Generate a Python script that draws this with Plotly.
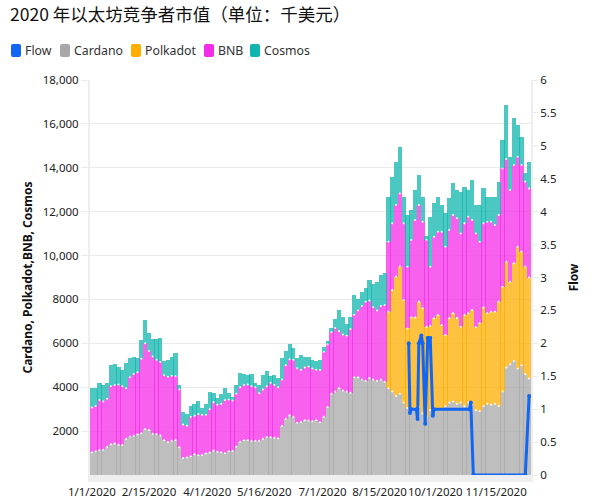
import numpy as np
import pandas as pd
import plotly.graph_objects as go

# readings, one value per 3 days from 1/1/2020
cardano = [1030, 1080, 1140, 1150, 1290, 1400, 1440, 1380, 1380, 1650,
           1750, 1790, 1850, 1900, 2100, 2050, 1880, 1870, 1800, 1580,
           1500, 1560, 1600, 1270, 770, 800, 860, 950, 900, 920,
           980, 1030, 1120, 1060, 1040, 990, 1080, 1100, 1300, 1520,
           1580, 1600, 1560, 1560, 1560, 1650, 1730, 1720, 1700, 1680,
           2250, 2560, 2720, 2650, 2380, 2420, 2500, 2480, 2450, 2500,
           2400, 2650, 3100, 3700, 3800, 3950, 3850, 3800, 3750, 4450,
           4450, 4350, 4300, 4430, 4350, 4300, 4350, 4250, 3950, 3800,
           3600, 3700, 3300, 3050, 2900, 3050, 3100, 2800, 2650, 2950,
           3050, 3000, 3000, 3150, 3300, 3350, 3250, 3300, 3150, 3300,
           3200, 2950, 2900, 3150, 3250, 3200, 3250, 3150, 3800, 4900,
           5050, 5200, 4850, 5000, 4600, 4400]
polkadot = [0] * 78 + [
    3490, 4630, 5440, 5800, 4670, 3630, 4280, 4130, 4800, 4800,
    4110, 3850, 4090, 4290, 3840, 3230, 3840, 4020, 3900, 3460,
    4140, 4070, 4320, 3780, 4010, 4490, 4120, 4240, 4190, 4750,
    4780, 4820, 3760, 4450, 5550, 5180, 4900, 4600]
bnb = [2050, 2070, 2280, 2200, 2190, 2650, 2660, 2740, 2670, 2300,
       2700, 2810, 2830, 3400, 3900, 3600, 3520, 3380, 3350, 2970,
       2980, 2960, 2900, 2630, 1530, 1450, 1790, 1750, 1880, 1810,
       1770, 1970, 2200, 2140, 2210, 2430, 2360, 2300, 2400, 2480,
       2520, 2520, 2490, 2440, 2160, 2250, 2320, 2480, 2400, 2320,
       2100, 2440, 2550, 2600, 2480, 2360, 2400, 2470, 2400, 2300,
       2380, 2950, 2850, 2800, 2900, 2600, 2550, 2550, 2900, 2850,
       3050, 3350, 3600, 3520, 3300, 3200, 3350, 3500, 3190, 3040,
       3260, 3330, 3500, 2810, 3530, 4440, 4400, 3940, 3950, 2690,
       3720, 3800, 4250, 4020, 4020, 4480, 4550, 4250, 4180, 4400,
       4100, 4280, 3720, 3830, 4170, 4100, 3950, 3950, 5390, 4680,
       4180, 4480, 4100, 3950, 3870, 4060]
cosmos = [870, 830, 760, 750, 720, 950, 950, 780, 750, 1150,
          900, 800, 670, 850, 1050, 800, 800, 950, 1100, 650,
          770, 880, 1050, 200, 550, 550, 500, 550, 570, 330,
          500, 800, 430, 300, 450, 530, 310, 150, 400, 650,
          520, 430, 530, 200, 380, 650, 700, 300, 450, 400,
          1000, 650, 680, 550, 490, 670, 500, 450, 400, 400,
          470, 250, 150, 200, 400, 950, 800, 550, 550, 900,
          500, 650, 600, 950, 1050, 1300, 1400, 1450, 2050, 2120,
          1980, 2130, 1210, 2360, 1370, 1370, 1370, 1140, 200, 2280,
          1520, 1590, 1210, 1520, 1450, 1440, 1290, 1900, 1670, 1220,
          1820, 1290, 1670, 1590, 1140, 1140, 1290, 1520, 1300, 2460,
          1510, 2120, 1450, 1290, 380, 1220]

flow_dates = ["2020-09-07", "2020-09-08", "2020-09-09", "2020-09-13", "2020-09-14",
              "2020-09-15", "2020-09-17", "2020-09-18", "2020-09-20", "2020-09-22",
              "2020-09-24", "2020-09-26", "2020-09-27", "2020-10-25", "2020-10-26",
              "2020-10-28", "2020-12-08", "2020-12-11"]
flow = [2.0, 0.94, 1.0, 1.0, 0.85, 2.0, 2.12, 2.0, 0.78, 2.08,
        2.08, 0.9, 1.0, 1.0, 1.1, 0, 0, 1.2]

# the source's labels sit every 45 rows, so 10/1 lands a few days early on a true date axis
tick_dates = ["2020-01-01", "2020-02-15", "2020-04-01", "2020-05-16",
              "2020-07-01", "2020-08-15", "2020-09-28", "2020-11-15"]
tick_labels = ["1/1/2020", "2/15/2020", "4/1/2020", "5/16/2020",
               "7/1/2020", "8/15/2020", "10/1/2020", "11/15/2020"]
left_vals = [2000, 4000, 6000, 8000, 10000, 12000, 14000, 16000, 18000]
left_labels = ["2000", "4000", "6000", "8000", "10,000", "12,000", "14,000", "16,000", "18,000"]

dates = pd.date_range("2020-01-01", periods=len(cardano), freq="3D")
DAY_MS = 86400000

FONT = "Noto Sans, Open Sans, sans-serif"
GRID = "#ebebeb"
colors = {"Flow": "#1266f1", "Cardano": "#a8a8a8", "Polkadot": "#ffad00",
          "BNB": "#f42ce8", "Cosmos": "#0fb5ae"}

fig = go.Figure()

# stacked bars, a bit wider than the step so the overlap leaves the darker stripes
for name, vals in [("Cardano", cardano), ("Polkadot", polkadot), ("BNB", bnb), ("Cosmos", cosmos)]:
    fig.add_trace(go.Bar(x=dates, y=vals, name=name, showlegend=False, width=3.3 * DAY_MS,
                         marker=dict(color=colors[name], opacity=0.75, line_width=0)))

# little white dots on the top of each band
tops = np.cumsum([cardano, polkadot, bnb], axis=0)
for k, top in enumerate(tops):
    keep = np.array(polkadot) > 0 if k == 1 else np.ones(len(top), dtype=bool)
    fig.add_trace(go.Scatter(x=dates[keep], y=top[keep], mode="markers", showlegend=False,
                             marker=dict(color="white", size=2)))

fig.add_trace(go.Scatter(x=flow_dates, y=flow, name="Flow", yaxis="y2", mode="lines+markers",
                         showlegend=False, line=dict(color=colors["Flow"], width=3),
                         marker=dict(color=colors["Flow"], size=4)))


# pixel helpers for the hand made legend, plot area is 441x395 from (90, 80)
def px(x):
    return (x - 90) / 441


def py(y):
    return (475 - y) / 395


legend_x = [11, 60, 131, 204, 250]
legend_names = ["Flow", "Cardano", "Polkadot", "BNB", "Cosmos"]
shapes = []
annotations = []
for lx, name in zip(legend_x, legend_names):
    t, b = py(44), py(57)
    shapes.append(dict(type="path", xref="paper", yref="paper", fillcolor=colors[name], line_width=0,
                       path=" ".join([
                           f"M {px(lx + 2)} {t}",
                           f"L {px(lx + 8)} {t}",
                           f"Q {px(lx + 10)} {t} {px(lx + 10)} {py(46)}",
                           f"L {px(lx + 10)} {py(55)}",
                           f"Q {px(lx + 10)} {b} {px(lx + 8)} {b}",
                           f"L {px(lx + 2)} {b}",
                           f"Q {px(lx)} {b} {px(lx)} {py(55)}",
                           f"L {px(lx)} {py(46)}",
                           f"Q {px(lx)} {t} {px(lx + 2)} {t}",
                           "Z"])))
    annotations.append(dict(text=name, xref="paper", yref="paper", showarrow=False, xanchor="left",
                            x=px(lx + 13), y=py(50.5), yanchor="middle", xshift=-1,
                            font=dict(size=12.3, color="#333333", family=FONT)))

fig.update_layout(
    width=600, height=503,
    margin=dict(l=90, r=69, t=80, b=28, autoexpand=False),
    paper_bgcolor="white", plot_bgcolor="white",
    barmode="stack", bargap=0,
    font=dict(family=FONT, size=11.5, color="#222222"),
    title=dict(text="2020 年以太坊竞争者市值（单位：千美元）", x=10 / 600, xanchor="left", y=1 - 15 / 503, yanchor="middle",
               font=dict(family="Noto Sans CJK SC", size=17.5, color="#111111")),
    showlegend=False,
    shapes=shapes,
    annotations=annotations,
    xaxis=dict(type="date", range=["2019-12-30 12:00", "2020-12-12 12:00"], tickvals=tick_dates,
               ticktext=tick_labels, showgrid=False, showline=True, linecolor="#eeeeee", linewidth=7,
               ticks="", tickangle=0, zeroline=False),
    yaxis=dict(range=[0, 18000], tickvals=left_vals, ticktext=left_labels, gridcolor=GRID, gridwidth=1,
               showline=True, linecolor="#eeeeee", linewidth=2, ticks="outside", ticklen=7, tickcolor=GRID,
               zeroline=False, title=dict(text="<b>Cardano, Polkadot,BNB, Cosmos</b>", standoff=8,
                                          font=dict(size=12, color="#111111"))),
    yaxis2=dict(overlaying="y", side="right", range=[0, 6], dtick=0.5, tickformat="~g", showgrid=False,
                showline=True, linecolor="#eeeeee", linewidth=2, ticks="outside", ticklen=5, tickcolor=GRID,
                zeroline=False, title=dict(text="<b>Flow</b>", standoff=14,
                                           font=dict(size=12, color="#111111"))),
)

# the page's default body margin would push the fixed size figure out of the window
fig.write_html("out.html", config=dict(displayModeBar=False),
               post_script="document.body.style.margin = '0';")
